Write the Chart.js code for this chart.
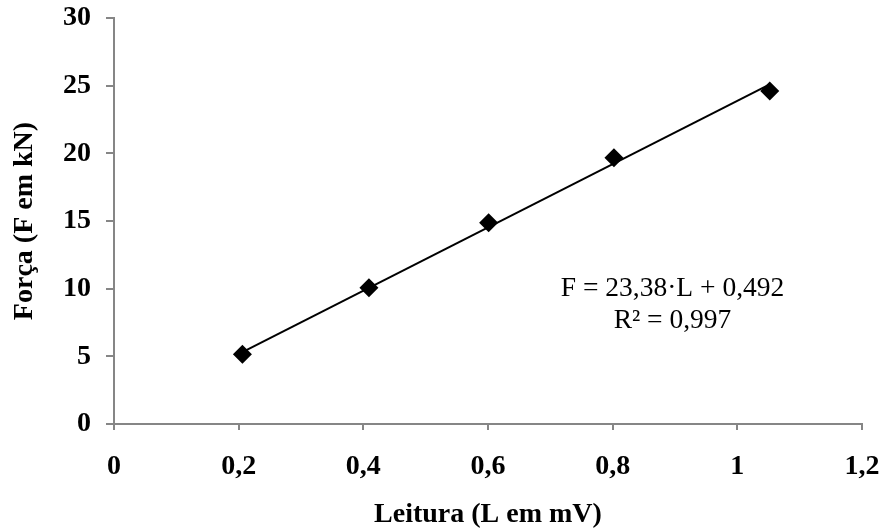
<!DOCTYPE html>
<html>
<head>
<meta charset="utf-8">
<script src="https://cdn.jsdelivr.net/npm/chart.js@4/dist/chart.umd.min.js"></script>
<style>
html,body{margin:0;padding:0;background:#fff;}
#wrap{width:888px;height:529px;}
</style>
</head>
<body>
<div id="wrap"><canvas id="c" width="888" height="529"></canvas></div>
<script>
// Data
const leitura = [0.206, 0.409, 0.601, 0.802, 1.052];   // L (mV)
const forca   = [5.15, 10.07, 14.87, 19.67, 24.6];     // F (kN)
const xTickLabels = ['0', '0,2', '0,4', '0,6', '0,8', '1', '1,2'];
const yTickLabels = ['0', '5', '10', '15', '20', '25', '30'];
const trendSlope = 23.38;
const trendIntercept = 0.492;
const equationLines = ['F = 23,38\u00B7L + 0,492', 'R\u00B2 = 0,997'];
const xTitle = 'Leitura (L em mV)';
const yTitle = 'Força (F em kN)';

const points = leitura.map((x, i) => ({x: x, y: forca[i]}));
const xMinData = Math.min(...leitura), xMaxData = Math.max(...leitura);
const trend = [xMinData, xMaxData].map(x => ({x: x, y: trendSlope * x + trendIntercept}));

const AXIS = '#868686';
const serif = "'Liberation Serif', 'Times New Roman', serif";

const equationPlugin = {
  id: 'equation',
  afterDraw(chart) {
    const {ctx, scales} = chart;
    const cx = scales.x.getPixelForValue(0.896);
    const y1 = scales.y.getPixelForValue(10.0);
    const y2 = scales.y.getPixelForValue(7.6);
    ctx.save();
    ctx.fillStyle = '#000';
    ctx.font = "27.5px " + serif;
    ctx.textAlign = 'center';
    ctx.textBaseline = 'middle';
    ctx.fillText(equationLines[0], cx, y1);
    ctx.fillText(equationLines[1], cx, y2);
    ctx.restore();
  }
};

function noPad(s) { s.paddingTop = 0; s.paddingBottom = 0; s.paddingLeft = 0; s.paddingRight = 0; }

new Chart(document.getElementById('c'), {
  type: 'scatter',
  data: {
    datasets: [
      {
        label: 'Trend',
        data: trend,
        showLine: true,
        borderColor: '#000',
        borderWidth: 2,
        pointRadius: 0,
        pointHoverRadius: 0,
        fill: false,
        order: 2
      },
      {
        label: 'Força',
        data: points,
        pointStyle: 'rectRot',
        pointRadius: 9.5,
        pointHoverRadius: 9.5,
        backgroundColor: '#000',
        borderColor: '#000',
        borderWidth: 0,
        showLine: false,
        order: 1
      }
    ]
  },
  options: {
    responsive: false,
    animation: false,
    devicePixelRatio: 1,
    layout: {padding: {left: 0, right: 26, top: 18, bottom: 0}},
    plugins: {legend: {display: false}, tooltip: {enabled: false}},
    scales: {
      x: {
        type: 'linear',
        min: 0, max: 1.2,
        ticks: {
          stepSize: 0.2,
          color: '#000',
          font: {family: serif, size: 28, weight: 'bold'},
          padding: 20,
          maxRotation: 0,
          autoSkip: false,
          callback: (v, i) => xTickLabels[i]
        },
        grid: {drawOnChartArea: false, drawTicks: true, tickLength: 6, color: AXIS, lineWidth: 2},
        border: {display: true, color: AXIS, width: 2},
        title: {display: true, text: xTitle, color: '#000', font: {family: serif, size: 28, weight: 'bold'}, padding: {top: 0, bottom: -3}},
        afterFit: s => { s.height = 105; noPad(s); }
      },
      y: {
        type: 'linear',
        min: 0, max: 30,
        ticks: {
          stepSize: 5,
          color: '#000',
          font: {family: serif, size: 28, weight: 'bold'},
          padding: 15,
          autoSkip: false,
          callback: (v, i) => yTickLabels[i]
        },
        grid: {drawOnChartArea: false, drawTicks: true, tickLength: 8, color: AXIS, lineWidth: 2},
        border: {display: true, color: AXIS, width: 2},
        title: {display: true, text: yTitle, color: '#000', font: {family: serif, size: 28, weight: 'bold'}, padding: {top: 8, bottom: 0}},
        afterFit: s => { s.width = 114; noPad(s); }
      }
    }
  },
  plugins: [equationPlugin]
});
</script>
</body>
</html>
